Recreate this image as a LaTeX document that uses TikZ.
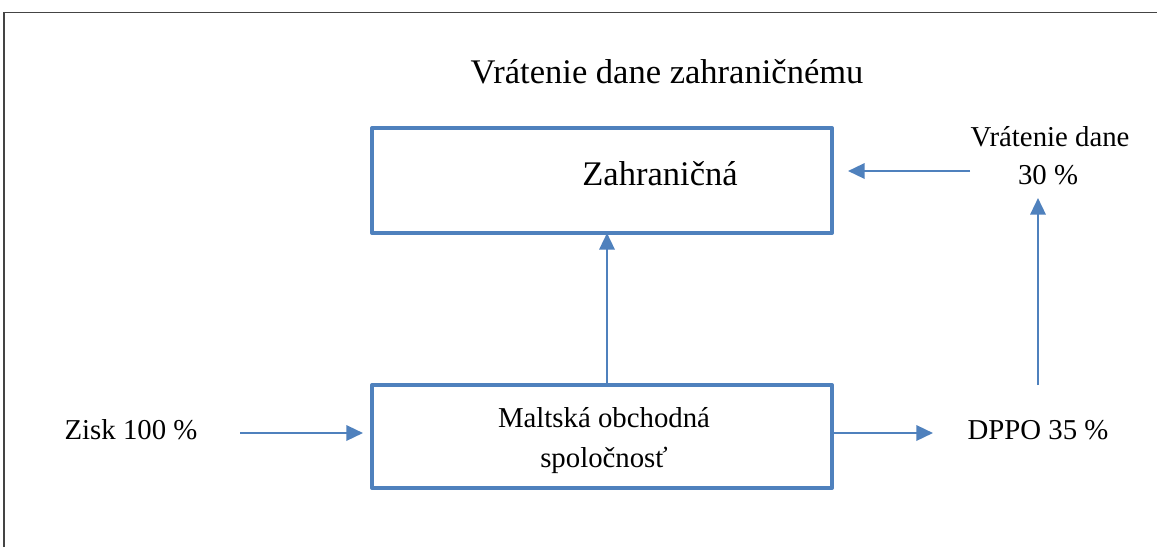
\documentclass[tikz,border=0pt]{standalone}
\usepackage{fontspec}
\setmainfont{Liberation Serif}
\usetikzlibrary{arrows.meta}
\definecolor{flowblue}{HTML}{4F81BD}
\definecolor{framegray}{HTML}{444444}
\tikzset{
  boxnode/.style={draw=flowblue, line width=3pt, line join=round, rectangle,
    outer sep=0pt, inner sep=0pt, minimum width=345pt},
  flowarrow/.style={draw=flowblue, line width=1.8pt,
    -{Triangle[length=12.5pt,width=11.5pt]}},
  smalltext/.style={inner sep=0pt, anchor=base, font=\fontsize{21.6pt}{30pt}\selectfont},
  bigtext/.style={inner sep=0pt, anchor=base, font=\fontsize{25.9pt}{31pt}\selectfont},
}
\begin{document}
\begin{tikzpicture}[x=0.75pt, y=-0.75pt]
\useasboundingbox (0,0) rectangle (1157,547);
\fill[white] (0,0) rectangle (1157,547);

% page frame, running off the right and lower edges
\draw[framegray, line width=0.9pt] (4,547) -- (4,12.5) -- (1157,12.5);

% title
\node[bigtext] (title) at (667,83) {Vrátenie dane zahraničnému};

% boxes
\node[boxnode, minimum height=78.75pt] (foreign) at (602,180.5) {};
\node[bigtext] (foreignlabel) at (660,185) {Zahraničná};
\node[boxnode, minimum height=77.25pt] (malta) at (602,436.5) {};
\node[smalltext, align=center, anchor=north] (maltalabel) at (604,407)
      {Maltská obchodná\\spoločnosť};

% side labels
\node[smalltext] (profit) at (131,439) {Zisk 100 \%};
\node[smalltext] (tax) at (1038,439) {DPPO 35 \%};
\node[smalltext] (refund1) at (1050,146.5) {Vrátenie dane};
\node[smalltext] (refund2) at (1048,184) {30 \%};

% arrow end points
\coordinate (profitTail) at (240,433);
\coordinate (profitTip) at (363,433);
\coordinate (taxTip) at (933,433);
\coordinate (taxUpTail) at (1038,385);
\coordinate (taxUpTip) at (1038,198);
\coordinate (refundTail) at (970,171);
\coordinate (refundTip) at (848,171);

% connectors
\draw[flowarrow] (profitTail) -- (profitTip);
\draw[flowarrow] (malta.east |- taxTip) -- (taxTip);
\draw[flowarrow] (malta.north -| 607,0) -- (foreign.south -| 607,0);
\draw[flowarrow] (taxUpTail) -- (taxUpTip);
\draw[flowarrow] (refundTail) -- (refundTip);
\end{tikzpicture}
\end{document}
